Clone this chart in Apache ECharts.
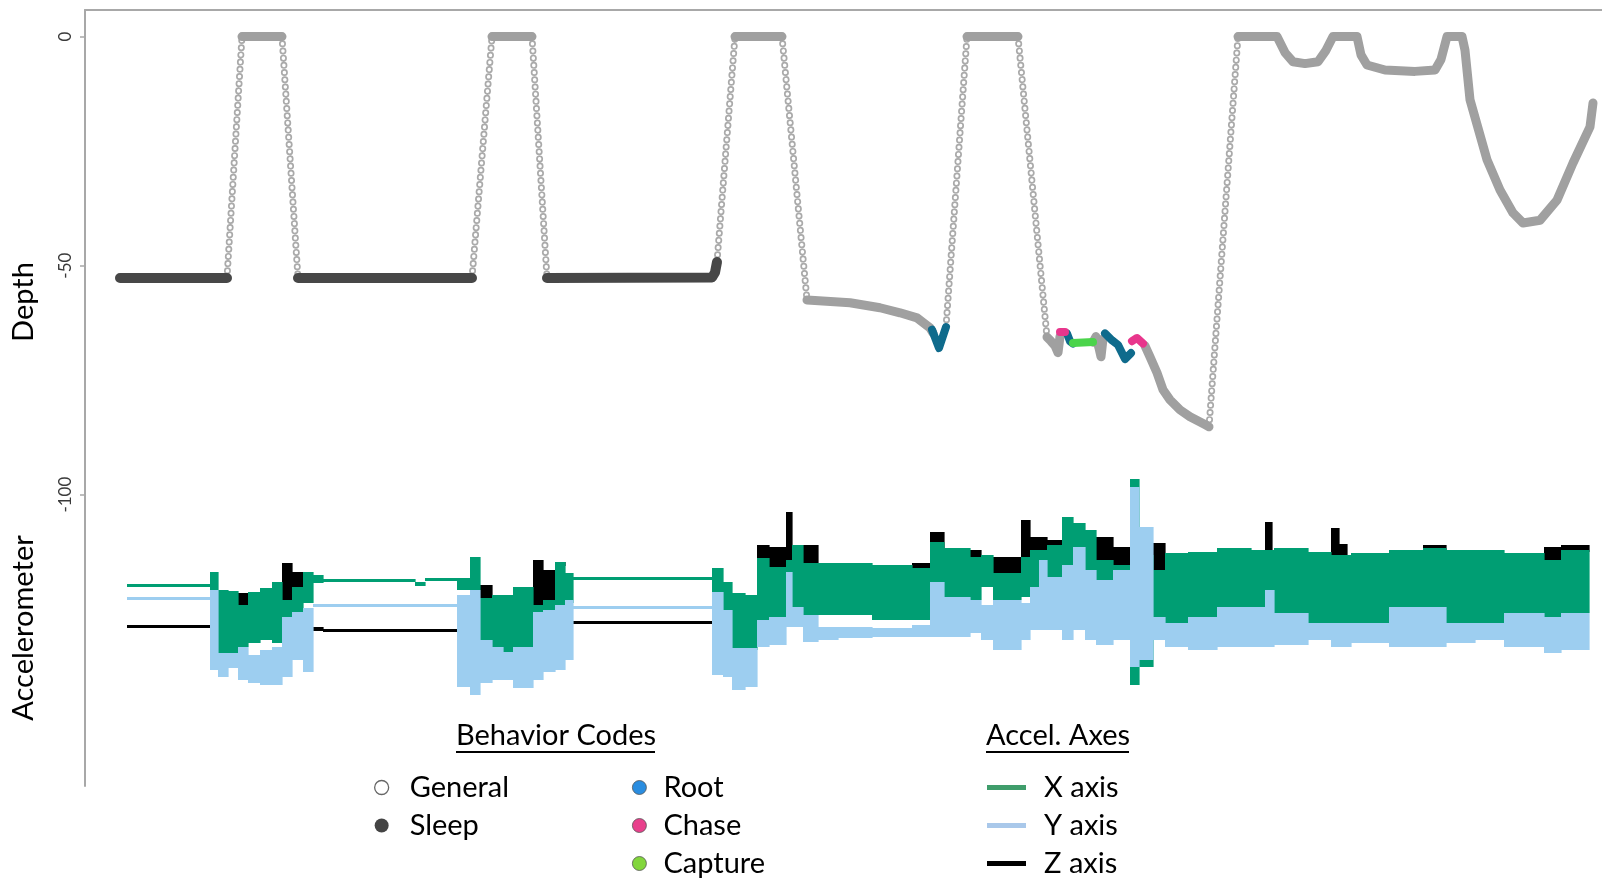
<!DOCTYPE html>
<html><head><meta charset="utf-8">
<script src="https://cdn.jsdelivr.net/npm/echarts@6/dist/echarts.min.js"></script>
<style>html,body{margin:0;padding:0;background:#fff}#c{width:1602px;height:880px}</style>
</head><body><div id="c"></div>
<script>
// ---------------- DATA ----------------
// time (s from start of record), depth (m)
const depthTicks = [0, -50, -100];

const sleepSegs = [
  [[35,-52.7],[142,-52.7]],
  [[213,-52.7],[387,-52.7]],
  [[462,-52.7],[627,-52.6],[630,-51.5],[632,-49.2]]
];
// General behaviour, fast vertical transit (sparse samples)
const transitSegs = [
  [[142,-52.7],[157,0]],
  [[197,0],[213,-52.7]],
  [[387,-52.7],[407,0]],
  [[447,0],[462,-52.7]],
  [[632,-49.2],[650,0]],
  [[697,0],[722,-57.5]],
  [[861,-63.4],[882,0]],
  [[933,0],[962,-65.6]],
  [[1124,-85.2],[1153,0]]
];
// General behaviour, dense samples
const generalSegs = [
  [[157,0],[197,0]],
  [[407,0],[447,0]],
  [[650,0],[697,0]],
  [[722,-57.5],[765,-58.1],[795,-59.2],[815,-60.3],[832,-61.4],[845,-63.6],[848,-64.7]],
  [[882,0],[933,0]],
  [[962,-65.6],[966,-66.5],[970,-67.5],[973,-69.0],[975,-65.5]],
  [[1008,-66.7],[1011,-65.5],[1014,-68.0],[1016,-69.9],[1018,-66.0]],
  [[1060,-67.5],[1065,-69.9],[1072,-73.4],[1078,-77.1],[1085,-79.3],[1095,-81.5],[1105,-83.0],[1119,-84.6],[1124,-85.2]],
  [[1153,0],[1192,0],[1200,-3.5],[1208,-5.5],[1220,-5.9],[1233,-5.5],[1241,-3.0],[1248,0],[1272,0],[1276,-4.0],
   [1282,-6.2],[1300,-7.3],[1330,-7.6],[1350,-7.3],[1356,-5.0],[1362,0],[1377,0],[1380,-3.0],[1385,-13.8],
   [1402,-26.9],[1415,-33.5],[1428,-38.5],[1438,-40.7],[1455,-40.1],[1472,-35.7],[1488,-27.6],[1505,-19.7],[1508,-14.5]]
];
const rootSegs = [
  [[847,-64.0],[854,-68.0],[861,-63.4]],
  [[982,-64.8],[985,-66.5],[988,-67.0]],
  [[1020,-64.8],[1027,-66.3],[1033,-67.3],[1040,-70.4],[1046,-69.1]]
];
const chaseSegs = [
  [[975,-64.5],[980,-64.5]],
  [[1047,-66.5],[1052,-65.8],[1058,-67.0]]
];
const captureSegs = [
  [[988,-66.9],[1008,-66.7]]
];

// Accelerometer: bin edges (s) and per-bin [high, low] of the X and Y axes (arbitrary accel units)
const accelEdges = [42,125,133,143,153,163,175,187,197,207,218,228,238,330,340,372,385,395,407,418,428,448,458,470,480,488,
  627,638,647,660,672,684,701,707,718,733,753,787,827,845,859,885,896,908,936,945,954,962,977,988,1000,1011,1028,1045,1054,
  1068,1080,1103,1132,1166,1180,1189,1223,1246,1266,1304,1338,1361,1390,1419,1459,1476,1504];
const accelX = [[11.6,11.3],[12.8,11.0],[11.0,4.7],[10.9,4.7],[9.5,5.3],[10.8,5.7],[11.2,6.0],[11.8,5.7],[10.0,7.5],[11.3,8.8],
  [12.8,9.7],[12.5,11.7],[12.1,11.8],[11.8,11.4],[12.2,11.9],[12.2,11.0],[14.3,11.0],[10.2,6.0],[10.5,5.3],[10.5,4.8],
  [11.3,5.3],[9.5,6.0],[10.0,8.0],[13.8,9.0],[12.7,9.7],[12.3,12.0],[13.2,10.7],[11.8,9.0],[10.7,5.2],[10.5,5.0],
  [14.2,8.0],[13.3,8.3],[14.0,8.0],[15.5,9.3],[13.7,8.5],[13.7,8.5],[13.7,8.5],[13.5,8.0],[13.2,8.0],[15.8,10.0],
  [15.2,10.3],[14.3,10.0],[14.5,11.3],[12.7,10.0],[14.3,10.3],[15.0,11.3],[15.0,11.3],[15.5,11.0],[18.3,12.3],[17.7,11.3],
  [17.0,11.7],[14.0,10.0],[13.5,9.0],[22.1,1.5],[14.5,3.3],[13.0,8.3],[14.7,7.7],[14.8,8.3],[15.2,9.0],[15.0,9.3],
  [15.0,9.3],[15.2,8.7],[14.8,7.7],[14.5,7.7],[14.7,7.7],[15.0,8.3],[15.2,8.0],[15.0,7.7],[15.0,7.7],[14.7,8.3],
  [14.0,8.3],[15.0,8.7]];
const accelY = [[10.3,10.0],[11.0,3.0],[4.7,2.3],[4.7,3.2],[5.3,2.0],[4.5,1.7],[5.0,1.5],[5.3,1.5],[8.3,2.3],[8.8,4.0],
  [9.2,2.8],[9.6,9.3],[9.6,9.3],[9.6,9.3],[9.6,9.3],[10.5,1.3],[11.0,0.5],[6.0,1.7],[5.3,2.0],[4.8,2.0],
  [5.3,1.2],[8.8,2.0],[9.0,2.8],[9.5,3.0],[10.0,4.0],[9.4,9.1],[10.8,2.5],[9.0,2.3],[5.2,1.0],[5.2,1.3],
  [8.0,5.3],[8.3,5.5],[12.8,7.3],[9.3,7.3],[8.5,5.8],[7.3,6.0],[7.3,6.2],[7.2,6.3],[7.5,6.3],[11.8,6.3],
  [10.3,6.3],[10.0,6.7],[9.5,6.0],[10.0,5.0],[9.7,6.0],[11.3,7.0],[14.0,7.0],[12.3,7.0],[13.5,6.0],[15.3,7.0],
  [13.0,6.0],[12.0,5.5],[13.0,6.0],[21.3,3.3],[17.3,4.0],[8.3,6.0],[7.7,5.3],[8.3,5.0],[9.3,5.3],[9.3,5.3],
  [11.0,5.3],[8.7,5.5],[7.7,6.0],[7.7,5.3],[7.7,5.7],[9.3,5.3],[9.3,5.3],[7.7,5.7],[7.7,6.0],[8.7,5.3],
  [8.3,4.7],[8.7,5.0]];
// Z axis: [start, end, high, low]
const accelZ = [[42,125,7.5,7.2],[153,163,10.7,9.5],[175,187,6.7,6.4],[197,207,13.7,9.8],[207,218,12.8,11.3],
  [228,238,7.3,6.9],[238,372,7.1,6.8],[372,385,7.5,7.0],[395,407,11.5,10.2],[448,458,14.0,8.8],[458,470,13.0,9.0],
  [470,480,13.8,13.4],[488,627,7.9,7.6],[647,660,5.2,4.8],[672,684,15.5,14.0],[684,701,15.3,13.3],[701,707,18.8,13.0],
  [707,718,15.5,14.0],[718,733,15.5,13.0],[827,845,13.7,12.8],[845,859,16.8,15.0],[885,896,15.0,14.0],
  [908,936,14.3,12.5],[936,945,18.0,14.0],[945,962,16.3,14.5],[962,977,16.0,12.3],[1011,1028,16.3,13.0],
  [1028,1045,15.3,13.0],[1054,1068,15.7,13.0],[1054,1062,6.0,4.3],[1068,1080,15.7,13.0],[1080,1103,14.7,13.0],
  [1180,1187,17.8,14.5],[1246,1254,17.2,14.0],[1254,1262,15.6,14.0],[1338,1361,15.5,14.8],[1440,1459,14.7,13.3],
  [1459,1476,15.3,13.3],[1476,1504,15.5,14.8]];

// ---------------- CHART ----------------
const FONT = 'Lato';
function joinSegs(segs){
  const out = [];
  segs.forEach((s, i) => {
    if (i) out.push([s[0][0], null]);
    s.forEach(p => out.push(p));
  });
  return out;
}
function bins(vals){
  const out = [];
  vals.forEach((v, i) => { if (v) out.push([accelEdges[i], accelEdges[i+1], v[0], v[1]]); });
  return out;
}
function lineSeries(name, segs, color, width, dash){
  const ls = {color, width, cap: 'round', join: 'round'};
  if (dash) ls.type = dash;
  return {
    type: 'line', name, data: joinSegs(segs), showSymbol: false, symbol: 'none',
    connectNulls: false, animation: false, silent: true,
    lineStyle: ls, emphasis: {disabled: true}
  };
}
function bandSeries(name, color, data){
  return {
    type: 'custom', name, yAxisIndex: 1, animation: false, silent: true,
    itemStyle: {color},
    encode: {x: [0, 1], y: [2, 3]},
    data,
    renderItem(params, api){
      const a = api.coord([api.value(0), api.value(2)]);
      const b = api.coord([api.value(1), api.value(3)]);
      let y = a[1], h = b[1] - a[1];
      if (h < 3) { y = (a[1] + b[1]) / 2 - 1.5; h = 3; }
      return {type: 'rect', shape: {x: a[0], y, width: b[0] - a[0] + 0.6, height: h}, style: {fill: color}};
    }
  };
}

const chart = echarts.init(document.getElementById('c'), null, {renderer: 'canvas'});
const textBase = {fontFamily: FONT, fontSize: 29, color: '#000'};
const legendText = Object.assign({}, textBase, {lineHeight: 28});
const legendCommon = {orient: 'vertical', top: 773, height: 140, padding: 0, itemGap: 9, selectedMode: false};
chart.setOption({
  animation: false,
  grid: {left: 85, right: 0, top: 10, bottom: 94},
  xAxis: {
    type: 'value', min: 0, max: 1517, position: 'top',
    axisLine: {show: true, onZero: false, lineStyle: {color: '#a8a8a8', width: 2}},
    axisTick: {show: false}, axisLabel: {show: false}, splitLine: {show: false}
  },
  yAxis: [{
    type: 'value', min: -163.6, max: 5.8,
    axisLine: {show: true, onZero: false, lineStyle: {color: '#a8a8a8', width: 2}},
    axisTick: {show: true, length: 5, customValues: depthTicks, lineStyle: {color: '#a8a8a8', width: 1.5}},
    axisLabel: {show: true, customValues: depthTicks, rotate: 90, margin: 11,
      fontFamily: FONT, fontSize: 17, color: '#3a3a3a'},
    splitLine: {show: false}
  }, {
    type: 'value', min: -8.6, max: 69, show: false
  }],
  legend: [Object.assign({}, legendCommon, {
    left: 374, itemWidth: 14, itemHeight: 14,
    textStyle: Object.assign({}, legendText, {padding: [0, 0, 0, 16]}),
    data: [
      {name: 'General', icon: 'circle', itemStyle: {color: '#ffffff', borderColor: '#666', borderWidth: 1.3}},
      {name: 'Sleep', icon: 'circle', itemStyle: {color: '#444', borderColor: '#444', borderWidth: 0}}
    ]
  }), Object.assign({}, legendCommon, {
    left: 632, itemWidth: 14, itemHeight: 14,
    textStyle: Object.assign({}, legendText, {padding: [0, 0, 0, 12]}),
    data: [
      {name: 'Root', icon: 'circle', itemStyle: {color: '#2a8de0', borderColor: '#555', borderWidth: 0.8}},
      {name: 'Chase', icon: 'circle', itemStyle: {color: '#e8408c', borderColor: '#555', borderWidth: 0.8}},
      {name: 'Capture', icon: 'circle', itemStyle: {color: '#82d63c', borderColor: '#555', borderWidth: 0.8}}
    ]
  }), Object.assign({}, legendCommon, {
    left: 987, itemWidth: 39, itemHeight: 5,
    textStyle: Object.assign({}, legendText, {padding: [0, 0, 0, 13]}),
    data: [
      {name: 'X axis', icon: 'rect', itemStyle: {color: '#3f9d6b'}},
      {name: 'Y axis', icon: 'rect', itemStyle: {color: '#a9c8ea'}},
      {name: 'Z axis', icon: 'rect', itemStyle: {color: '#000'}}
    ]
  })],
  graphic: [
    {type: 'text', x: 24, y: 302, rotation: Math.PI / 2,
      style: Object.assign({text: 'Depth', textAlign: 'center', textVerticalAlign: 'middle'}, textBase)},
    {type: 'text', x: 24, y: 628, rotation: Math.PI / 2,
      style: Object.assign({text: 'Accelerometer', textAlign: 'center', textVerticalAlign: 'middle'}, textBase)},
    {type: 'text', x: 456, y: 736,
      style: Object.assign({text: 'Behavior Codes', textAlign: 'left', textVerticalAlign: 'middle'}, textBase)},
    {type: 'line', shape: {x1: 456, y1: 752, x2: 655, y2: 752}, style: {stroke: '#000', lineWidth: 2}},
    {type: 'text', x: 986, y: 736,
      style: Object.assign({text: 'Accel. Axes', textAlign: 'left', textVerticalAlign: 'middle'}, textBase)},
    {type: 'line', shape: {x1: 986, y1: 752, x2: 1129, y2: 752}, style: {stroke: '#000', lineWidth: 2}}
  ],
  series: [
    bandSeries('Z axis', '#000000', accelZ),
    bandSeries('X axis', '#009e73', bins(accelX)),
    bandSeries('Y axis', '#9dcef0', bins(accelY)),
    lineSeries('General', transitSegs, '#aaaaaa', 7, [0.01, 7.2]),
    lineSeries('General', transitSegs, '#ffffff', 3.6, [0.01, 7.2]),
    lineSeries('General', generalSegs, '#a0a0a0', 9),
    lineSeries('Sleep', sleepSegs, '#474747', 10),
    lineSeries('Root', rootSegs, '#0f6b8c', 8),
    lineSeries('Chase', chaseSegs, '#e8368c', 8),
    lineSeries('Capture', captureSegs, '#4bd44b', 8)
  ]
});
</script></body></html>
